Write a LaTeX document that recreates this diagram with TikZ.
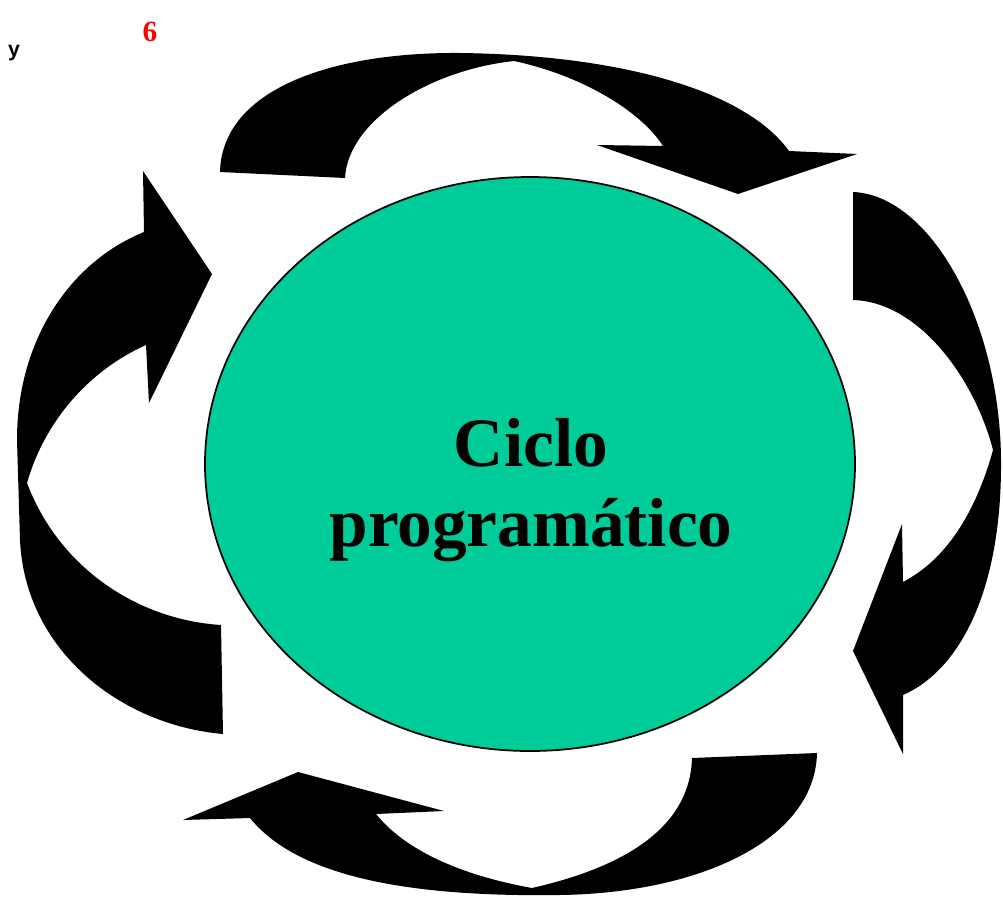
\documentclass[tikz,border=0pt]{standalone}
\usepackage{fontspec}
\setmainfont{Liberation Serif}
\newfontfamily\rotulo{Liberation Sans}
\usetikzlibrary{shapes.geometric,positioning}
\definecolor{verde}{HTML}{00CC99}

\begin{document}
\begin{tikzpicture}[x=0.75pt, y=-0.75pt, flecha/.style = {fill=black}, main/.style = {draw, ellipse, fill=verde, line width=1.3pt}]
          \useasboundingbox (0,0) rectangle (1003,907);
          \node[main, minimum width=487.5pt, minimum height=430.5pt] (ciclo) at (530,464) {};
          \node[font=\bfseries\fontsize{52}{60}\selectfont, align=center] (titulo) at (531,490) {Ciclo\\programático};
          \node[text=red, font=\bfseries\fontsize{22}{24}\selectfont] (seis) at (150,32) {6};
          \node[font=\rotulo\bfseries\fontsize{16}{18}\selectfont] (ye) at (14,53) {y};

          % arriba
          \fill[flecha] (220,172) .. controls (222,90) and (330,52) .. (460,53) .. controls (620,55) and (745,90) .. (789,151) -- (857,154) -- (738,194) -- (597,145) -- (663,146) .. controls (640,110) and (580,75) .. (514,61) .. controls (430,70) and (348,120) .. (345,178) -- cycle;
          % derecha
          \fill[flecha] (853,192) .. controls (930,195) and (1000,320) .. (1001,460) .. controls (1002,590) and (960,670) .. (903,695) -- (903,754) -- (853,651) -- (902,524) -- (903,582) .. controls (945,560) and (975,515) .. (993,450) .. controls (975,380) and (920,302) .. (853,300) -- cycle;
          % abajo
          \fill[flecha] (817,753) .. controls (815,840) and (700,893) .. (560,895) .. controls (420,897) and (300,880) .. (250,818) -- (183,820) -- (298,772) -- (444,811) -- (376,814) .. controls (405,850) and (460,875) .. (532,888) .. controls (620,868) and (690,830) .. (692,758) -- cycle;
          % izquierda
          \fill[flecha] (223,734) .. controls (120,725) and (25,650) .. (20,540) -- (17,440) .. controls (17,340) and (70,262) .. (144,232) -- (143,171) -- (212,274) -- (149,403) -- (146,345) .. controls (90,370) and (45,420) .. (27,483) .. controls (60,570) and (140,620) .. (221,625) -- cycle;
        \end{tikzpicture}
\end{document}
